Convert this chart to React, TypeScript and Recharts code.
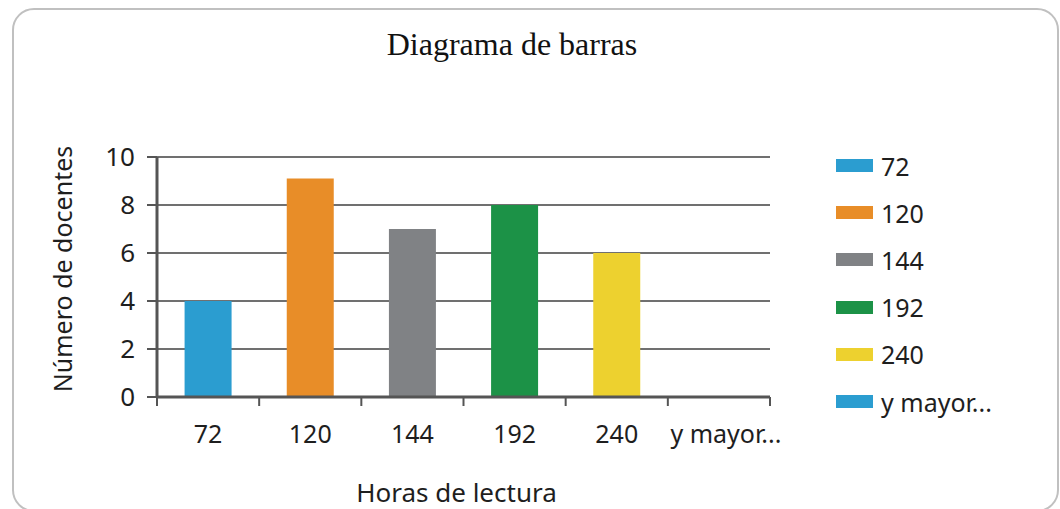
import { BarChart, Bar, XAxis, YAxis, CartesianGrid, Cell } from "recharts";

const CATEGORIES = ["72", "120", "144", "192", "240", "y mayor..."];
const DOCENTES = [4, 9.1, 7, 8, 6, 0];
const COLORS = ["#2b9dd0", "#e88d28", "#808285", "#1c9247", "#edd12f", "#2b9dd0"];
const Y_TICKS = [0, 2, 4, 6, 8, 10];

const SANS = "'Noto Sans', 'Open Sans', sans-serif";
const AXIS = "#555";
const TEXT = "#1e1e1e";

const PLOT_LEFT = 157;
const PLOT_RIGHT = 770;
const BAND = (PLOT_RIGHT - PLOT_LEFT) / CATEGORIES.length;

const data = CATEGORIES.map((c, i) => ({ hours: c, docentes: DOCENTES[i] }));

// category axis: ticks sit on band edges, labels in the middle
function XTick(props: any) {
  const { x, y, payload, index } = props;
  const left = x - BAND / 2;
  const right = x + BAND / 2;
  const last = index === CATEGORIES.length - 1;
  return (
    <g>
      <line x1={left} x2={left} y1={y} y2={y + 9} stroke={AXIS} strokeWidth={2} />
      {last && <line x1={right} x2={right} y1={y} y2={y + 9} stroke={AXIS} strokeWidth={2} />}
      <text x={last ? x + 7 : x} y={y + 46} textAnchor="middle" fill={TEXT} fontSize={25} fontFamily={SANS}>
        {payload.value}
      </text>
    </g>
  );
}

function XLabel(props: any) {
  const { viewBox } = props;
  const cx = viewBox.x + viewBox.width / 2 - 7;
  return (
    <text x={cx} y={502} textAnchor="middle" fill={TEXT} fontSize={26} fontFamily={SANS}>
      Horas de lectura
    </text>
  );
}

function YLabel(props: any) {
  const { viewBox } = props;
  const cy = viewBox.y + viewBox.height / 2 - 8;
  return (
    <text
      x={62}
      y={cy}
      transform={`rotate(-90, 62, ${cy})`}
      textAnchor="middle"
      dominantBaseline="central"
      fill={TEXT}
      fontSize={25}
      fontFamily={SANS}
    >
      Número de docentes
    </text>
  );
}

export default function App() {
  return (
    <div style={{ position: "absolute", left: 0, top: 0, width: 1060, height: 509, background: "#fff", overflow: "hidden" }}>
      <div
        style={{
          position: "absolute", left: 12, top: 8, width: 1043, height: 500,
          border: "2px solid #c0c0c0", borderRadius: 22,
        }}
      />
      <div
        style={{
          position: "absolute", left: 0, width: 1024, top: 26, textAlign: "center",
          fontFamily: "'Liberation Serif', 'DejaVu Serif', serif", fontSize: 32, color: "#111",
        }}
      >
        Diagrama de barras
      </div>

      <BarChart
        width={1060}
        height={509}
        data={data}
        margin={{ top: 157, right: 1060 - PLOT_RIGHT, bottom: 12, left: 10 }}
        barCategoryGap="27%"
        style={{ position: "absolute", left: 0, top: 0 }}
      >
        <CartesianGrid horizontal vertical={false} stroke="#707070" strokeWidth={2} />
        <XAxis
          dataKey="hours"
          height={100}
          axisLine={{ stroke: AXIS, strokeWidth: 3 }}
          tickLine={false}
          tickSize={0}
          tickMargin={0}
          interval={0}
          tick={<XTick />}
          label={<XLabel />}
        />
        <YAxis
          width={PLOT_LEFT - 10}
          domain={[0, 10]}
          ticks={Y_TICKS}
          interval={0}
          axisLine={{ stroke: AXIS, strokeWidth: 3 }}
          tickLine={{ stroke: AXIS, strokeWidth: 2 }}
          tickSize={10}
          tickMargin={12}
          tick={{ fill: TEXT, fontSize: 26, fontFamily: SANS }}
          label={<YLabel />}
        />
        <Bar dataKey="docentes" isAnimationActive={false}>
          {data.map((d, i) => (
            <Cell key={d.hours} fill={COLORS[i]} />
          ))}
        </Bar>
      </BarChart>

      <div style={{ position: "absolute", left: 836, top: 142, fontFamily: SANS, fontSize: 25, color: TEXT }}>
        {CATEGORIES.map((c, i) => (
          <div key={c} style={{ display: "flex", alignItems: "center", height: 47.2 }}>
            <span style={{ display: "inline-block", width: 37, height: 13, background: COLORS[i], marginRight: 8 }} />
            {c}
          </div>
        ))}
      </div>
    </div>
  );
}
